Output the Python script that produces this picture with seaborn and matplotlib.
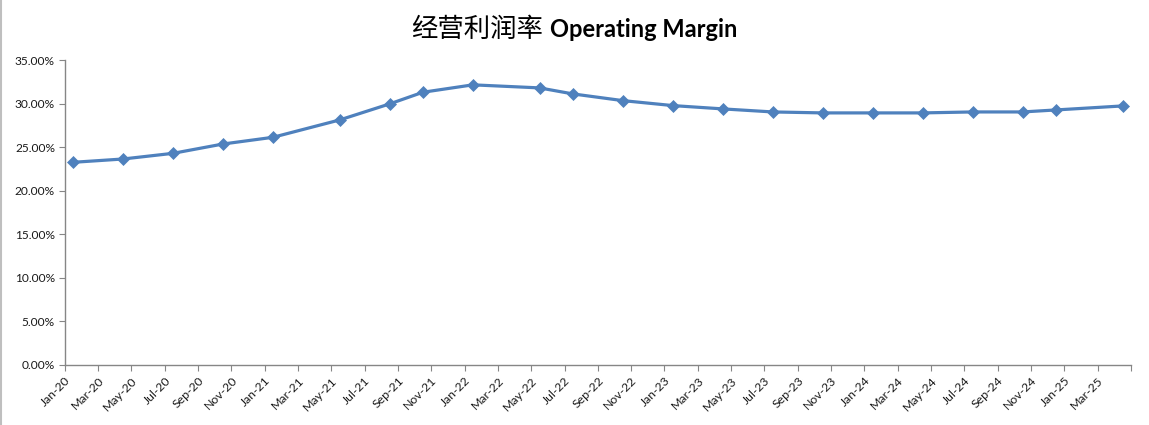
"""经营利润率 Operating Margin 折线图（Excel 风格，月份等距日期轴）。"""
import matplotlib
matplotlib.use("Agg")
import matplotlib.pyplot as plt
from matplotlib.lines import Line2D
from matplotlib.ticker import FixedLocator, PercentFormatter
import pandas as pd
import seaborn as sns

# 报告月份（每个点落在该月的月中）与经营利润率（%）
report_months = [
    "2020-01", "2020-04", "2020-07", "2020-10", "2021-01", "2021-05",
    "2021-08", "2021-10", "2022-01", "2022-05", "2022-07", "2022-10",
    "2023-01", "2023-04", "2023-07", "2023-10", "2024-01", "2024-04",
    "2024-07", "2024-10", "2024-12", "2025-04",
]
margin_pct = [
    23.26, 23.64, 24.29, 25.36, 26.13, 28.12,
    29.96, 31.30, 32.15, 31.80, 31.11, 30.34,
    29.77, 29.39, 29.04, 28.93, 28.93, 28.93,
    29.04, 29.04, 29.27, 29.73,
]
# 横轴刻度：Jan-20 起每两个月一格，到 May-25（最后一格不标注）
axis_start = "2020-01"
axis_end = "2025-05"

LINE_BLUE = "#4F81BD"
AXIS_GRAY = "#868686"

sns.set_theme(style="white")
plt.rcParams["font.family"] = ["Lato", "Noto Sans CJK SC", "DejaVu Sans"]
plt.rcParams["axes.unicode_minus"] = False

start = pd.Period(axis_start, freq="M")
end = pd.Period(axis_end, freq="M")
df = pd.DataFrame({"month": pd.PeriodIndex(report_months, freq="M"),
                   "margin": margin_pct})
# 月份序号（Excel 以“月”为基本单位时各月等宽），点画在月中
df["x"] = [(p - start).n + 0.5 for p in df["month"]]

tick_periods = pd.period_range(start, end, freq="M")[::2]
tick_pos = [(p - start).n for p in tick_periods]
tick_labels = [p.strftime("%b-%y") for p in tick_periods]
tick_labels[-1] = ""

fig = plt.figure(figsize=(11.49, 4.25), dpi=100)
ax = fig.add_axes([0.0563, 0.1412, 0.928, 0.7176])

sns.lineplot(data=df, x="x", y="margin", ax=ax, color=LINE_BLUE,
             linewidth=2.3, marker="D", markersize=6.5,
             markeredgecolor=LINE_BLUE, markeredgewidth=0.5)

ax.set_xlim(tick_pos[0], tick_pos[-1])
ax.set_ylim(0, 35)
ax.xaxis.set_major_locator(FixedLocator(tick_pos))
ax.set_xticklabels(tick_labels, rotation=45, ha="right",
                   rotation_mode="anchor", fontsize=8.8)
ax.set_yticks(range(0, 36, 5))
ax.yaxis.set_major_formatter(PercentFormatter(xmax=100, decimals=2))
ax.tick_params(axis="y", labelsize=8.6)
ax.tick_params(axis="both", direction="out", length=4, width=0.8,
               color=AXIS_GRAY, pad=3, left=True, bottom=True,
               labelcolor="#1a1a1a")
ax.set_xlabel("")
ax.set_ylabel("")
ax.grid(False)

for side in ("top", "right"):
    ax.spines[side].set_visible(False)
for side in ("left", "bottom"):
    ax.spines[side].set_color(AXIS_GRAY)
    ax.spines[side].set_linewidth(1.0)

# 标题：中文常规 + 英文粗体
fig.text(0.4726, 0.913, "经营利润率", ha="right", va="baseline",
         fontsize=19, color="black",
         family=["Noto Sans CJK SC", "DejaVu Sans"])
fig.text(0.4787, 0.913, "Operating Margin", ha="left", va="baseline",
         fontsize=17, fontweight="bold", color="black",
         family=["Lato", "DejaVu Sans"])

# 图表区左侧的灰色边框线
fig.add_artist(Line2D([0.001, 0.001], [0, 1], color="#BFBFBF", lw=1.5))

fig.savefig("out.png", dpi=100)
plt.close(fig)
